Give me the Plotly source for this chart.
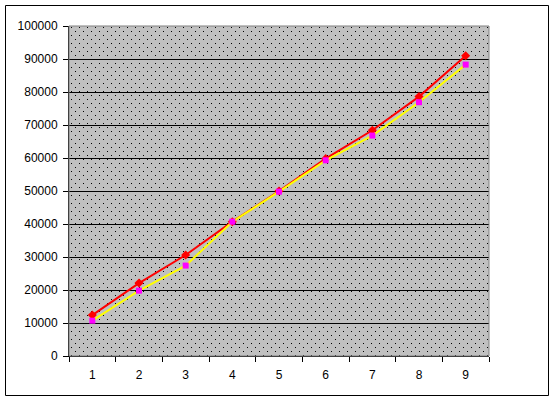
import plotly.graph_objects as go

# chart values
categories = ["1", "2", "3", "4", "5", "6", "7", "8", "9"]
series_red = [12400, 22100, 30600, 40700, 50000, 59800, 68400, 78600, 91000]
series_yellow = [10700, 19800, 27400, 40700, 49800, 59300, 66800, 76900, 88300]
y_ticks = list(range(0, 100001, 10000))

W, H = 553, 401
L, R, T, B = 69, 489, 26, 356  # plot area in pixels

# dotted grey plot background, like the old Excel fill
pw, ph = R - L, B - T
svg = (
    f"<svg xmlns='http://www.w3.org/2000/svg' width='{pw}' height='{ph}' "
    f"preserveAspectRatio='none' shape-rendering='crispEdges'>"
    "<defs><pattern id='p' width='8' height='8' patternUnits='userSpaceOnUse'>"
    "<rect width='8' height='8' fill='#C0C0C0'/>"
    "<rect x='2' y='1' width='1' height='1' fill='#000'/>"
    "<rect x='6' y='5' width='1' height='1' fill='#000'/>"
    "</pattern></defs>"
    f"<rect width='{pw}' height='{ph}' fill='url(#p)'/></svg>"
)
bg_src = "data:image/svg+xml;utf8," + svg.replace("#", "%23").replace("<", "%3C").replace(">", "%3E")

fig = go.Figure()
fig.add_trace(go.Scatter(
    x=categories, y=series_red, mode="lines+markers",
    line=dict(color="#FF0000", width=2),
    marker=dict(symbol="diamond", size=7, color="#FF0000"),
))
fig.add_trace(go.Scatter(
    x=categories, y=series_yellow, mode="lines+markers",
    line=dict(color="#FFFF00", width=2),
    marker=dict(symbol="square", size=6, color="#FF00FF"),
))


def px_to_paper(x, y):
    return (x - L) / pw, (B - y) / ph


x0, y0 = px_to_paper(5.5, 395.5)
x1, y1 = px_to_paper(548.5, 5.5)

fig.update_layout(
    width=W, height=H,
    margin=dict(l=L, r=W - R, t=T, b=H - B),
    paper_bgcolor="white",
    plot_bgcolor="rgba(0,0,0,0)",
    showlegend=False,
    font=dict(family="Liberation Sans, Arial, sans-serif", size=12, color="black"),
    images=[dict(source=bg_src, xref="paper", yref="paper", x=0, y=1,
                 sizex=1, sizey=1, sizing="stretch", layer="below")],
    shapes=[
        dict(type="rect", xref="paper", yref="paper", x0=0, y0=0, x1=1, y1=1,
             line=dict(color="#808080", width=1), layer="above"),
        dict(type="rect", xref="paper", yref="paper", x0=x0, y0=y0, x1=x1, y1=y1,
             line=dict(color="black", width=1)),
    ],
)
fig.update_xaxes(
    type="category", range=[-0.5, 8.5],
    showgrid=False, showline=True, linecolor="black", linewidth=1,
    ticks="outside", tickson="boundaries", ticklen=5, tickcolor="black",
    ticklabelstandoff=8, zeroline=False,
)
fig.update_yaxes(
    range=[0, 100000], tickvals=y_ticks, tickformat="d",
    showgrid=True, gridcolor="black", gridwidth=1,
    showline=True, linecolor="black", linewidth=1,
    ticks="outside", ticklen=5, tickcolor="black",
    ticklabelstandoff=3, zeroline=False,
)

# page body has a default 8px margin; drop it so the figure sits at 0,0
fig.write_html(
    "out.html",
    config={"displayModeBar": False},
    post_script="document.body.style.margin='0';document.body.style.overflow='hidden';",
)
